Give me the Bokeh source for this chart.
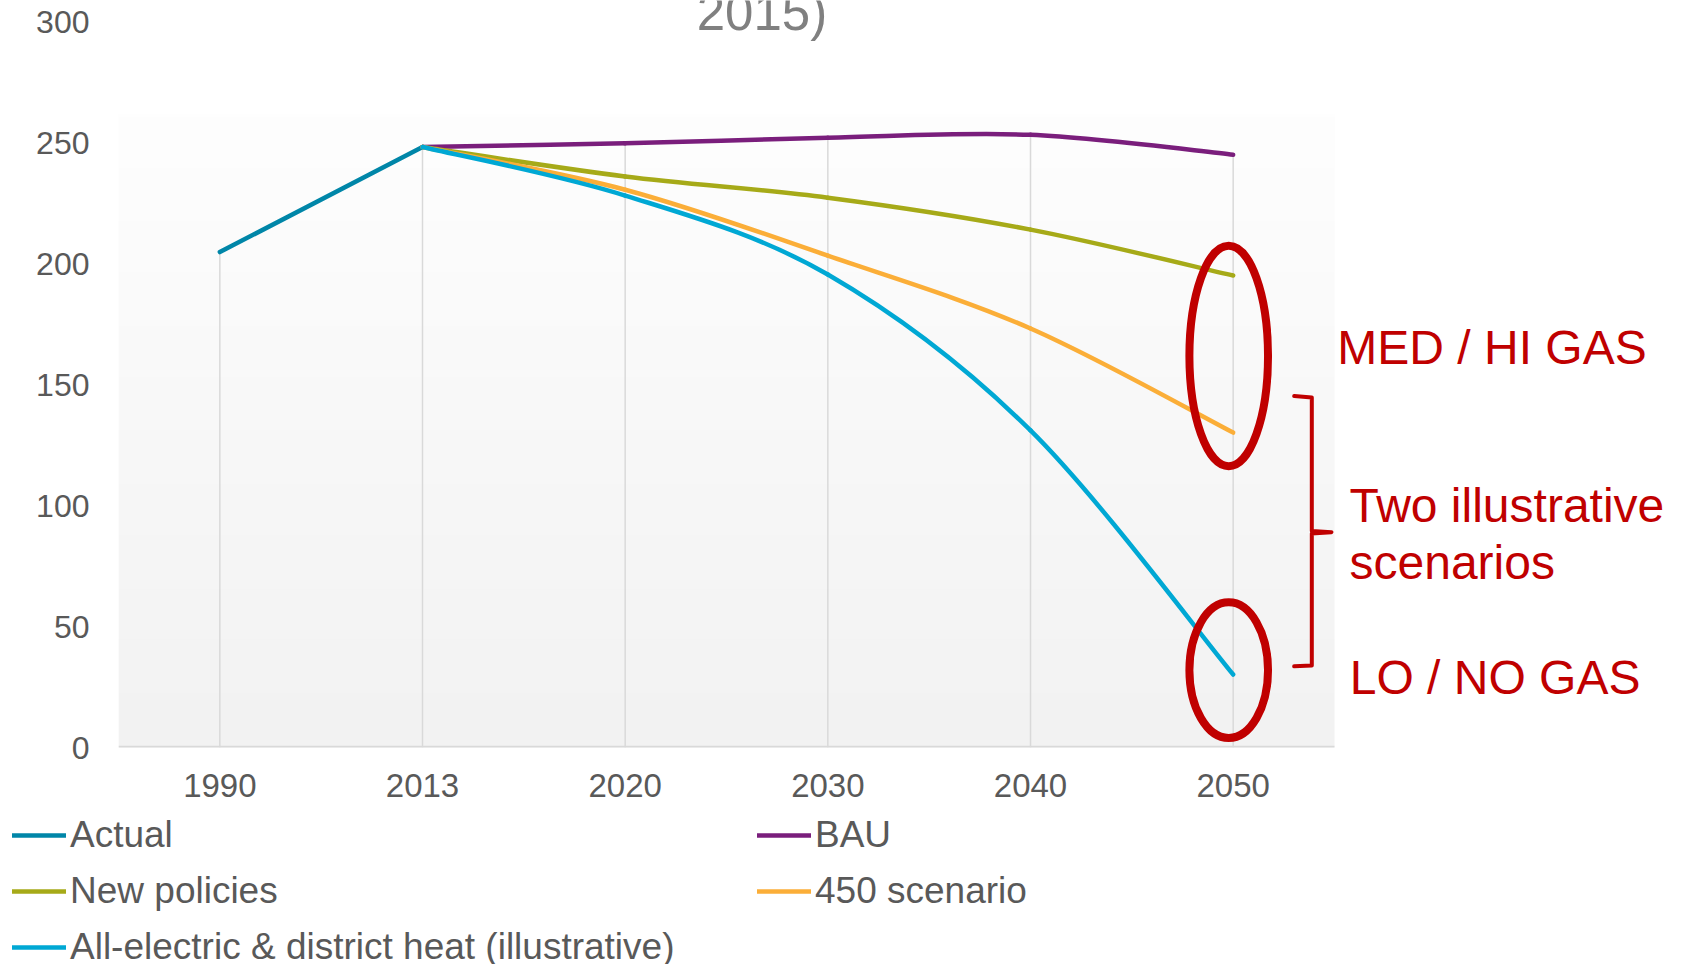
import numpy as np
from bokeh.plotting import figure
from bokeh.layouts import column, row
from bokeh.models import Range1d, FixedTicker, Legend, LegendItem, Label
from bokeh.embed import file_html
from bokeh.resources import INLINE

# ---------------- data ----------------
years = ["1990", "2013", "2020", "2030", "2040", "2050"]
y_ticks = [0, 50, 100, 150, 200, 250, 300]
actual = [205.0, 248.5, None, None, None, None]
bau = [None, 248.5, 250.0, 252.3, 253.5, 245.3]
new_policies = [None, 248.5, 236.3, 227.5, 214.3, 195.3]
scenario_450 = [None, 248.5, 230.8, 203.5, 173.4, 130.3]
all_electric = [None, 248.5, 228.4, 195.7, 131.2, 30.2]

names = ["Actual", "BAU", "New policies", "450 scenario",
         "All-electric & district heat (illustrative)"]
colors = ["#0086A8", "#7A1E7C", "#A6AA18", "#FBAE38", "#00A8D4"]
color_of = dict(zip(names, colors))

FONT = "Liberation Sans"
RED = "#C00000"
GREY_TXT = "#595959"

W = 1683
H_MAIN = 812
H_LEG = 152
p = figure(width=W, height=H_MAIN, output_backend="svg", toolbar_location=None,
           x_range=Range1d(0, 7.722), y_range=Range1d(0, 309.1),
           min_border_left=118, min_border_right=0,
           min_border_top=0, min_border_bottom=65)
p.outline_line_color = None
p.background_fill_color = "white"
p.border_fill_color = "white"
p.xgrid.visible = False
p.ygrid.visible = False

n_cat = len(years)
xpos = [i + 0.5 for i in range(n_cat)]

# plot-area gradient background
n = 200
shade = np.linspace(242, 254, n).astype(np.uint8)
img = np.zeros((n, 1), dtype=np.uint32)
view = img.view(dtype=np.uint8).reshape((n, 1, 4))
view[:, 0, 0] = shade
view[:, 0, 1] = shade
view[:, 0, 2] = shade
view[:, 0, 3] = 255
p.image_rgba(image=[img], x=0, y=0, dw=n_cat, dh=262)

# category axis line (only under the categories)
p.segment(x0=[0], y0=[0], x1=[n_cat], y1=[0], line_color="#d9d9d9", line_width=3.5)

# drop lines from the highest series value to 0
all_series = [actual, bau, new_policies, scenario_450, all_electric]
tops = []
for i in range(n_cat):
    vals = [s[i] for s in all_series if s[i] is not None]
    tops.append(max(vals))
p.segment(x0=xpos, y0=[0] * n_cat, x1=xpos, y1=tops,
          line_color="#d9d9d9", line_width=1.5)


def smooth_segments(xs, ys):
    pts = [(x, y) for x, y in zip(xs, ys) if y is not None]
    k = len(pts)
    out = dict(x0=[], y0=[], x1=[], y1=[], cx0=[], cy0=[], cx1=[], cy1=[])
    for i in range(k - 1):
        a = pts[max(i - 1, 0)]
        b = pts[i]
        c = pts[i + 1]
        d = pts[min(i + 2, k - 1)]
        out["x0"].append(b[0]); out["y0"].append(b[1])
        out["x1"].append(c[0]); out["y1"].append(c[1])
        out["cx0"].append(b[0] + (c[0] - a[0]) / 6.0)
        out["cy0"].append(b[1] + (c[1] - a[1]) / 6.0)
        out["cx1"].append(c[0] - (d[0] - b[0]) / 6.0)
        out["cy1"].append(c[1] - (d[1] - b[1]) / 6.0)
    return out


LW = 4.5
ax = [x for x, v in zip(xpos, actual) if v is not None]
ay = [v for v in actual if v is not None]
p.line(ax, ay, line_color=color_of["Actual"], line_width=LW,
       line_cap="round", line_join="round")

for name, s in [("BAU", bau), ("New policies", new_policies),
                ("450 scenario", scenario_450), (names[4], all_electric)]:
    seg = smooth_segments(xpos, s)
    p.bezier(x0=seg["x0"], y0=seg["y0"], x1=seg["x1"], y1=seg["y1"],
             cx0=seg["cx0"], cy0=seg["cy0"], cx1=seg["cx1"], cy1=seg["cy1"],
             line_color=color_of[name], line_width=LW, line_cap="round")

# annotations: ellipses and bracket
x2050 = xpos[-1]
p.ellipse(x=[x2050 - 0.022, x2050 - 0.022], y=[162.0, 32.0],
          width=[0.388, 0.388], height=[91.3, 56.2],
          fill_alpha=0, line_color=RED, line_width=8)
bx = [5.801, 5.888, 5.888, 5.985, 5.888, 5.888, 5.801]
by = [145.4, 144.8, 89.6, 89.1, 88.6, 33.9, 33.6]
p.line(bx, by, line_color=RED, line_width=4, line_join="round", line_cap="round")

for txt, x, y in [("MED / HI GAS", 6.014, 165.7),
                  ("Two illustrative", 6.074, 100.2),
                  ("scenarios", 6.074, 76.7),
                  ("LO / NO GAS", 6.075, 29.1)]:
    p.add_layout(Label(x=x, y=y, text=txt, text_font=FONT, text_font_size="48px",
                       text_color=RED, text_align="left",
                       text_baseline="alphabetic"))

# cut-off title
p.add_layout(Label(x=3.175, y=304.2, text="2015)", text_font=FONT,
                   text_font_size="51px", text_color="#808080",
                   text_align="center", text_baseline="alphabetic"))

# axes
p.yaxis.ticker = FixedTicker(ticks=y_ticks)
p.yaxis.axis_line_color = None
p.yaxis.major_tick_line_color = None
p.yaxis.minor_tick_line_color = None
p.yaxis.major_tick_out = 0
p.yaxis.major_tick_in = 0
p.yaxis.major_label_standoff = 29
p.yaxis.major_label_text_font = FONT
p.yaxis.major_label_text_font_size = "32px"
p.yaxis.major_label_text_color = GREY_TXT

p.xaxis.ticker = FixedTicker(ticks=xpos)
p.xaxis.major_label_overrides = {x: y for x, y in zip(xpos, years)}
p.xaxis.axis_line_color = None
p.xaxis.major_tick_line_color = None
p.xaxis.minor_tick_line_color = None
p.xaxis.major_tick_out = 0
p.xaxis.major_tick_in = 0
p.xaxis.major_label_standoff = 26
p.xaxis.major_label_text_font = FONT
p.xaxis.major_label_text_font_size = "33px"
p.xaxis.major_label_text_color = GREY_TXT

# ---------------- legend strip ----------------
q = figure(width=W, height=H_LEG, output_backend="svg", toolbar_location=None,
           x_range=Range1d(0, W), y_range=Range1d(0, H_LEG),
           x_axis_location=None, y_axis_location=None,
           min_border_left=0, min_border_right=0, min_border_top=0,
           min_border_bottom=0)
q.outline_line_color = None
q.xgrid.visible = False
q.ygrid.visible = False
q.background_fill_color = "white"
q.border_fill_color = "white"

aligned_ok = False
for fig in (p, q):
    if "frame_align" in fig.properties():
        fig.frame_align = False
        aligned_ok = True

leg_r = {}
for nm in names:
    # keys for the legend only; the points lie outside the visible range
    leg_r[nm] = q.line(x=[-50, -40], y=[-50, -50], line_color=color_of[nm],
                       line_width=LW, line_cap="round")


def make_legend(labels, loc):
    lg = Legend(items=[LegendItem(label=l, renderers=[leg_r[l]]) for l in labels],
                location=loc)
    lg.label_text_font = FONT
    lg.label_text_font_size = "37px"
    lg.label_text_color = GREY_TXT
    lg.glyph_width = 54
    lg.glyph_height = 44
    lg.label_height = 44
    lg.label_standoff = 4
    lg.spacing = 12
    lg.padding = 0
    lg.margin = 0
    lg.background_fill_alpha = 0
    lg.border_line_alpha = 0
    return lg


q.add_layout(make_legend(["Actual", "New policies", names[4]], (12, -5)))
q.add_layout(make_legend(["BAU", "450 scenario"], (757, 51)))

if aligned_ok:
    layout = column(p, q, spacing=0)
else:
    layout = column(p, row(q), spacing=0)
open("out.html", "w").write(file_html(layout, INLINE))
